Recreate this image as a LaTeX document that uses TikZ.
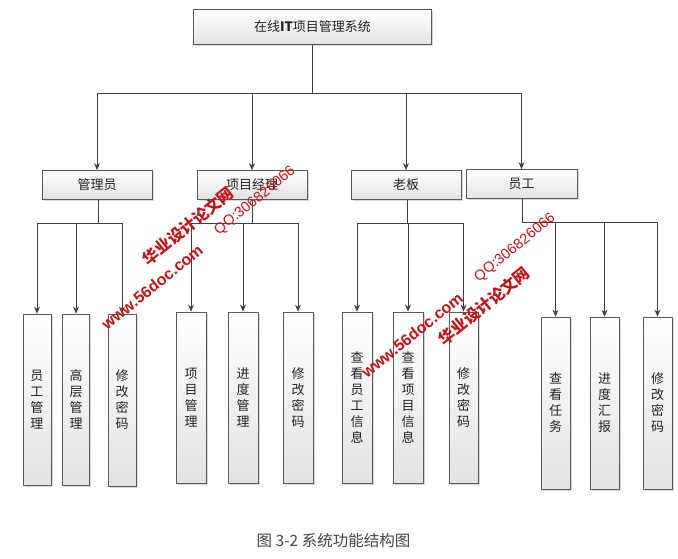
\documentclass[tikz,border=0pt]{standalone}
\usepackage{fontspec}
\setmainfont{Liberation Sans}
\newfontfamily\cjk{Noto Sans CJK SC}
\usetikzlibrary{arrows.meta,shadows}
\definecolor{boxc}{HTML}{5A5A5A}
\definecolor{linec}{HTML}{404040}
\definecolor{txt}{HTML}{222222}
\definecolor{wmred}{HTML}{C0141C}
\definecolor{capc}{HTML}{444444}
\tikzset{
  box/.style={draw=boxc, line width=0.8pt, top color=white, bottom color=gray!22,
    drop shadow={shadow xshift=1.5pt,shadow yshift=-1.5pt,fill=black!30},
    inner sep=0pt, font=\cjk\fontsize{13}{16}\selectfont, text=txt},
  hbox/.style={box, minimum height=29pt, minimum width=110pt},
  vbox/.style={box, minimum width=29pt, minimum height=171pt, align=center, text width=20pt},
  arr/.style={draw=linec, line width=0.9pt, -{Stealth[length=7pt,width=6pt]}},
  ln/.style={draw=linec, line width=0.9pt},
  wm/.style={text=wmred, rotate=39, inner sep=0pt},
}
\begin{document}
\begin{tikzpicture}[x=1pt,y=-1pt]
\path[use as bounding box, fill=white] (0,0) rectangle (678,558);
% top
\node[box, minimum width=238pt, minimum height=35pt] (top) at (312.5,27) {在线\textbf{IT}项目管理系统};
% level 2
\node[hbox] (adm) at (97,185) {管理员};
\node[hbox] (pm) at (252,185) {项目经理};
\node[hbox] (boss) at (406,185) {老板};
\node[hbox, minimum width=111pt] (emp) at (521.5,184) {员工};
% level 3
\node[vbox, minimum width=28pt] (a1) at (37,399.5) {员\\工\\管\\理};
\node[vbox, minimum width=27pt] (a2) at (76,399.5) {高\\层\\管\\理};
\node[vbox, minimum width=28pt, minimum height=172pt] (a3) at (122,400) {修\\改\\密\\码};
\node[vbox, minimum width=30pt] (p1) at (191,397.5) {项\\目\\管\\理};
\node[vbox, minimum width=30pt] (p2) at (243,397.5) {进\\度\\管\\理};
\node[vbox, minimum width=30pt] (p3) at (298,397.5) {修\\改\\密\\码};
\node[vbox, minimum width=30pt] (b1) at (357,397.5) {查\\看\\员\\工\\信\\息};
\node[vbox, minimum width=30pt] (b2) at (408,397.5) {查\\看\\项\\目\\信\\息};
\node[vbox] (b3) at (463.5,397.5) {修\\改\\密\\码};
\node[vbox, minimum height=172pt] (e1) at (555.5,403) {查\\看\\任\\务};
\node[vbox, minimum height=172pt] (e2) at (604.5,403) {进\\度\\汇\\报};
\node[vbox, minimum height=172pt] (e3) at (657.5,403) {修\\改\\密\\码};
% bus coordinates
\coordinate (c0) at (312.5,93);
\coordinate (ca) at (98,223);
\coordinate (cp) at (252,223);
\coordinate (cb) at (407,223);
\coordinate (ce) at (522,222);
% connectors level 1 -> 2
\draw[ln] (top.south) -- (c0);
\draw[arr] (c0) -| (adm.north);
\draw[arr] (c0) -| (pm.north);
\draw[arr] (c0) -| (boss.north);
\draw[arr] (c0) -| (emp.north);
% admin
\draw[ln] (adm.south -| ca) -- (ca);
\draw[arr] (ca) -| (a1.north);
\draw[arr] (ca) -| (a2.north);
\draw[arr] (ca) -| (a3.north);
% pm
\draw[ln] (pm.south -| cp) -- (cp);
\draw[arr] (cp) -| (p1.north);
\draw[arr] (cp) -| (p2.north);
\draw[arr] (cp) -| (p3.north);
% boss
\draw[ln] (boss.south -| cb) -- (cb);
\draw[arr] (cb) -| (b1.north);
\draw[arr] (cb) -| (b2.north);
\draw[arr] (cb) -| (b3.north);
% employee
\draw[ln] (emp.south -| ce) -- (ce);
\draw[arr] (ce) -| (e1.north);
\draw[arr] (ce) -| (e2.north);
\draw[arr] (ce) -| (e3.north);
% caption
\node[text=capc, font=\cjk\fontsize{15.5}{18}\selectfont, inner sep=0pt] (cap) at (333.5,541) {图 3-2 系统功能结构图};
% watermarks
\node[wm, font=\cjk\bfseries\fontsize{16}{18}\selectfont] (w1a) at (188,226) {华业设计论文网};
\node[wm, font=\fontsize{14.5}{16}\selectfont] (w1b) at (255,201) {QQ:306826066};
\node[wm, font=\bfseries\fontsize{16}{18}\selectfont] (w1c) at (152,287) {www.56doc.com};
\node[wm, font=\cjk\bfseries\fontsize{16}{18}\selectfont] (w2a) at (484,306) {华业设计论文网};
\node[wm, font=\fontsize{14.5}{16}\selectfont] (w2b) at (515,248) {QQ:306826066};
\node[wm, font=\bfseries\fontsize{16}{18}\selectfont] (w2c) at (412,335) {www.56doc.com};
\end{tikzpicture}
\end{document}
